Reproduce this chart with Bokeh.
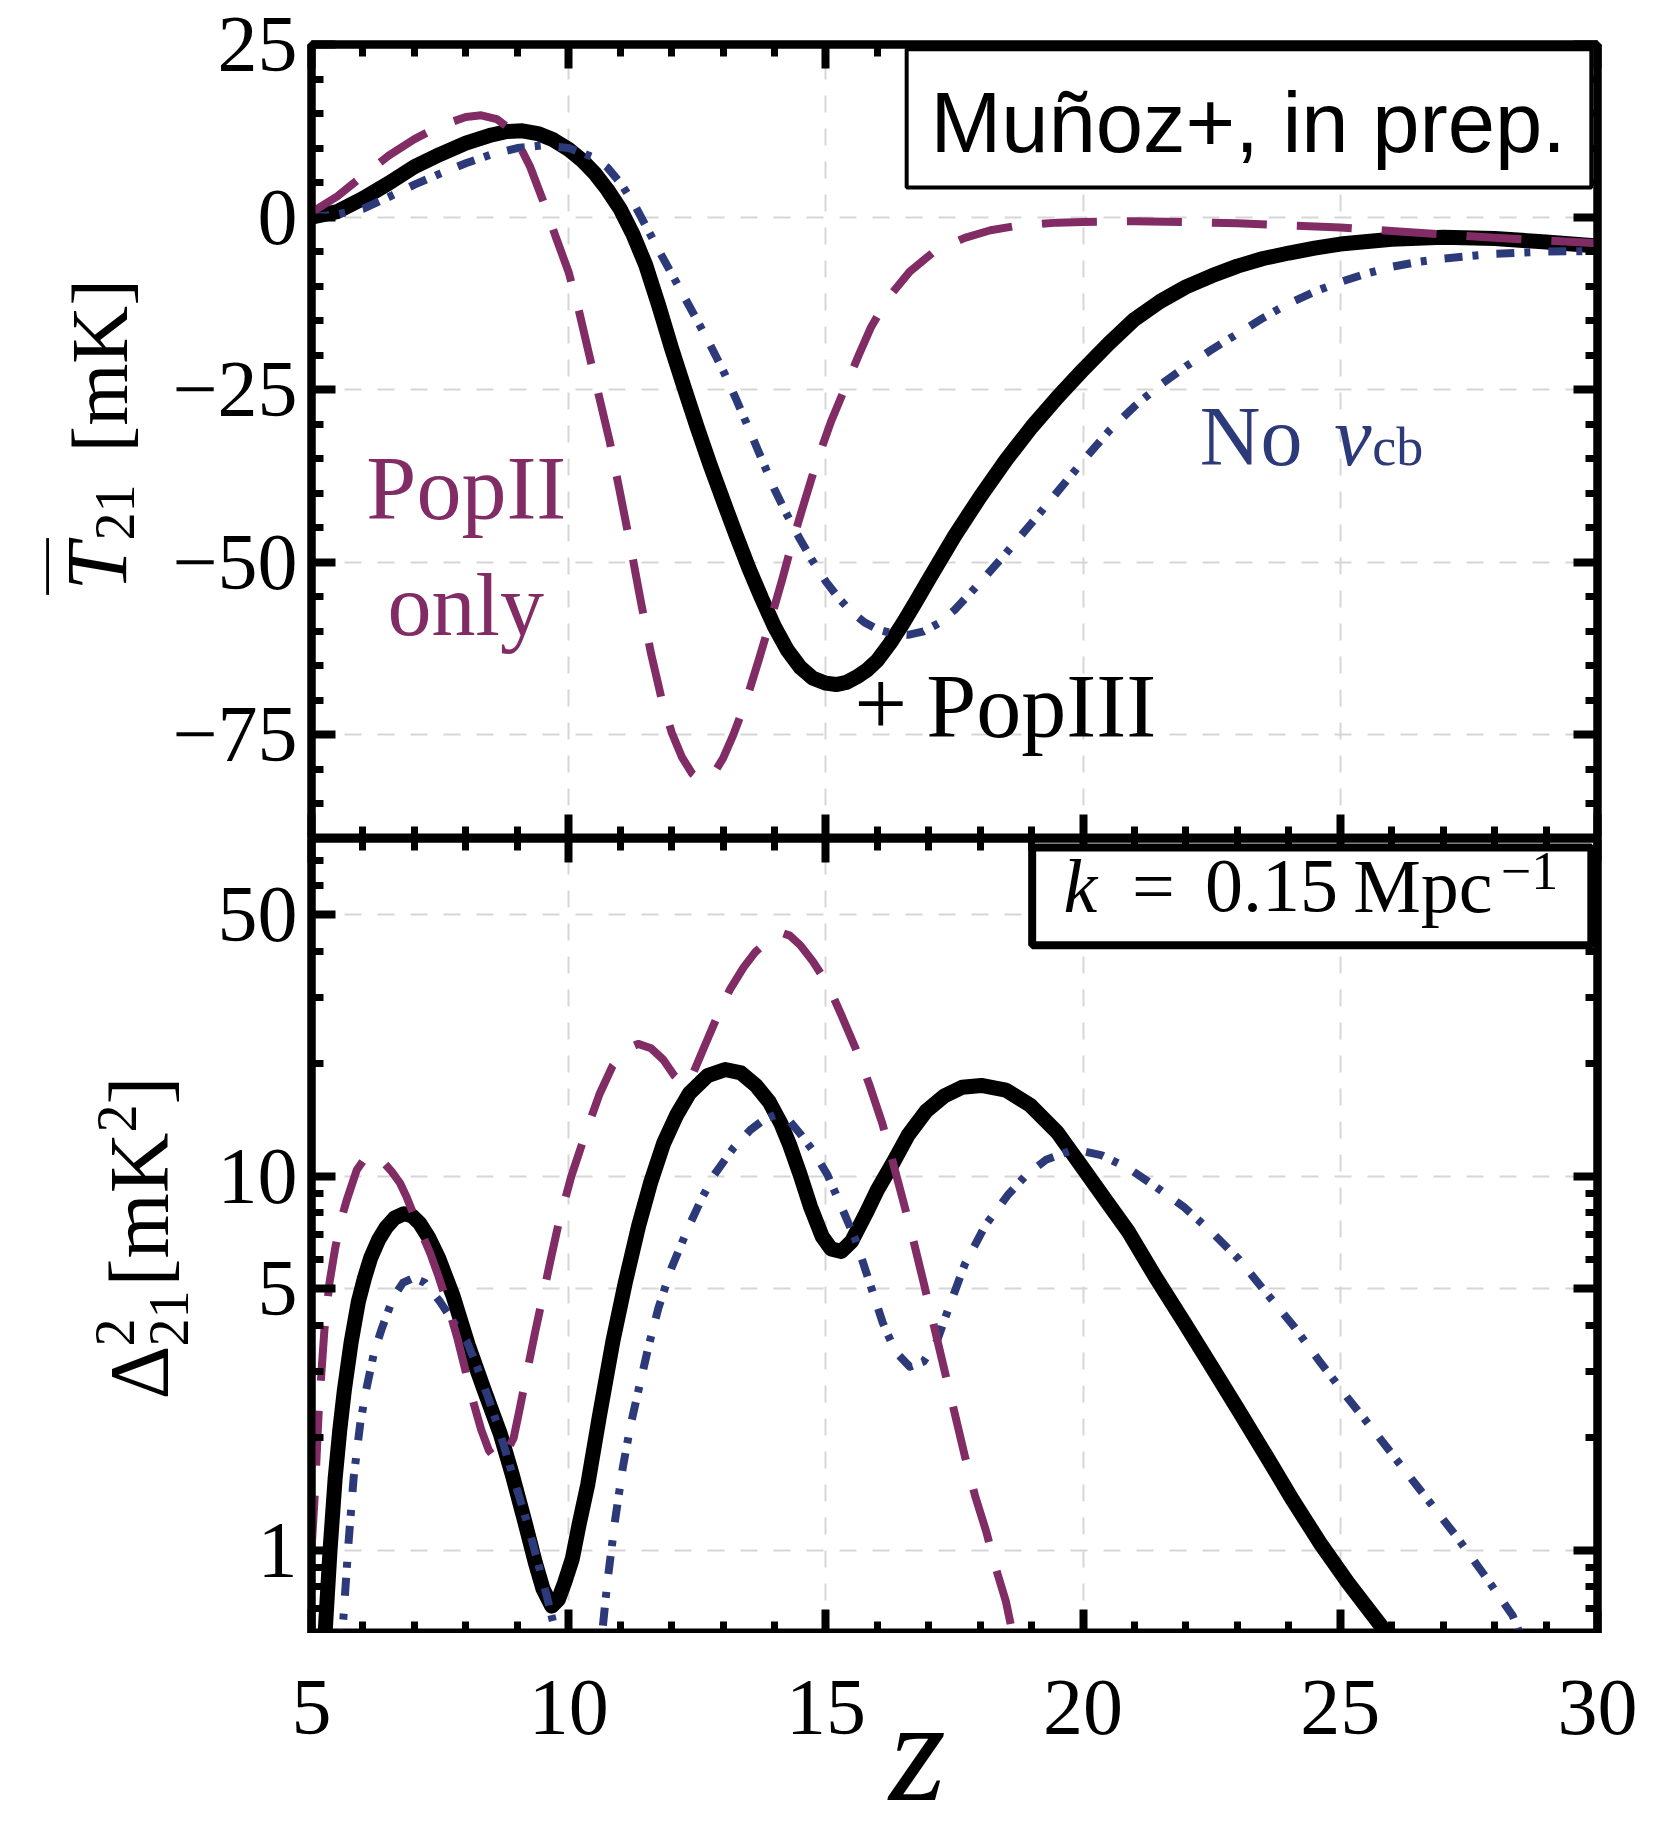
from bokeh.plotting import figure
from bokeh.layouts import column, row
from bokeh.models import (Range1d, LinearAxis, FixedTicker, Label,
                          BoxAnnotation, CustomJSTickFormatter)
from bokeh.core.properties import value
from bokeh.embed import file_html
from bokeh.resources import INLINE
import math

# ---------------- data ----------------
# Top panel: global signal T21 [mK] vs z
z_t_pop3 = [5.0, 5.5, 6.0, 6.5, 7.0, 7.5, 8.0, 8.5, 8.8, 9.1, 9.4, 9.7, 10.0, 10.25,
            10.5, 10.75, 11.0, 11.25, 11.5, 11.75, 12.0, 12.25, 12.5, 12.75, 13.0,
            13.25, 13.5, 13.75, 14.0, 14.25, 14.5, 14.75, 15.0, 15.2, 15.4, 15.6, 15.8,
            16.0, 16.25, 16.5, 16.75, 17.0, 17.5, 18.0, 18.5, 19.0, 19.5, 20.0, 20.5,
            21.0, 21.5, 22.0, 22.5, 23.0, 23.5, 24.0, 24.5, 25.0, 26.0, 27.0, 28.0,
            29.0, 30.0]
t21_pop3 = [0.0, 0.8, 2.7, 4.9, 7.3, 9.1, 10.7, 11.9, 12.4, 12.5, 12.1, 11.2, 9.8, 8.3,
            6.4, 4.0, 1.2, -2.5, -7.0, -12.8, -19.0, -24.8, -30.5, -35.9, -41.0, -46.0,
            -50.8, -55.2, -59.3, -62.7, -65.2, -66.8, -67.5, -67.7, -67.4, -66.6, -65.6,
            -64.2, -61.7, -58.8, -55.7, -52.5, -46.2, -40.5, -35.2, -30.4, -26.1, -22.1,
            -18.3, -14.8, -12.2, -10.1, -8.5, -7.1, -6.0, -5.2, -4.5, -3.9, -3.2, -2.9,
            -3.1, -3.6, -4.2]

z_t_novcb = [5.0, 5.5, 6.0, 6.5, 7.0, 7.5, 8.0, 8.5, 9.0, 9.5, 10.0, 10.5, 10.75, 11.0,
             11.25, 11.5, 11.75, 12.0, 12.25, 12.5, 12.75, 13.0, 13.25, 13.5, 13.75,
             14.0, 14.25, 14.5, 14.75, 15.0, 15.25, 15.5, 15.75, 16.0, 16.3, 16.6, 16.9,
             17.2, 17.5, 18.0, 18.5, 19.0, 19.5, 20.0, 20.5, 21.0, 21.5, 22.0, 22.5,
             23.0, 23.5, 24.0, 24.5, 25.0, 25.5, 26.0, 26.5, 27.0, 28.0, 29.0, 30.0]
t21_novcb = [0.0, 0.4, 1.2, 2.9, 4.7, 6.3, 7.8, 9.1, 10.0, 10.4, 10.0, 8.6, 7.2, 5.0,
             2.2, -1.3, -4.8, -8.2, -11.6, -15.0, -18.5, -22.2, -26.3, -30.6, -35.0,
             -39.4, -43.2, -46.7, -49.9, -52.8, -55.2, -57.2, -58.7, -59.7, -60.3, -60.5,
             -60.0, -58.8, -56.9, -52.9, -48.7, -44.3, -39.8, -35.3, -31.0, -27.4, -24.3,
             -21.6, -19.2, -16.9, -14.6, -12.5, -10.8, -9.4, -8.2, -7.2, -6.5, -6.0,
             -5.3, -5.0, -4.9]

z_t_pop2 = [5.0, 5.5, 6.0, 6.5, 7.0, 7.5, 8.0, 8.3, 8.6, 8.8, 9.0, 9.25, 9.5, 9.75,
            10.0, 10.2, 10.4, 10.6, 10.8, 11.0, 11.2, 11.4, 11.6, 11.8, 12.0, 12.2, 12.4,
            12.55, 12.7, 12.85, 13.0, 13.2, 13.46, 13.7, 13.92, 14.15, 14.35, 14.6,
            14.81, 15.1, 15.39, 15.65, 15.88, 16.2, 16.63, 17.1, 17.7, 18.2, 18.76, 19.5,
            20.0, 21.0, 22.0, 23.0, 24.0, 25.0, 26.0, 27.0, 28.0, 29.0, 30.0]
t21_pop2 = [0.7, 3.0, 6.0, 8.9, 11.3, 13.2, 14.5, 14.75, 14.2, 13.1, 11.0, 7.3, 2.4,
            -2.9, -8.0, -13.6, -20.0, -26.3, -32.6, -40.0, -47.6, -55.6, -63.2, -69.6,
            -74.6, -78.2, -80.6, -81.5, -81.3, -80.2, -78.4, -75.0, -69.8, -64.0, -58.5,
            -52.5, -47.0, -40.8, -35.7, -29.6, -24.4, -19.8, -15.9, -11.8, -7.9, -5.0,
            -3.0, -1.9, -1.2, -0.8, -0.7, -0.6, -0.7, -0.9, -1.2, -1.5, -2.0, -2.5,
            -3.0, -3.4, -3.8]

# Bottom panel: power spectrum Delta^2_21 [mK^2] at k = 0.15/Mpc
z_d_pop3 = [5.2, 5.27, 5.36, 5.46, 5.55, 5.64, 5.77, 5.91, 6.03, 6.15, 6.3, 6.45, 6.62,
            6.8, 6.95, 7.1, 7.28, 7.47, 7.75, 8.05, 8.35, 8.67, 8.9, 9.15, 9.35, 9.5,
            9.67, 9.8, 9.92, 10.07, 10.2, 10.37, 10.6, 10.86, 11.1, 11.36, 11.6, 11.85,
            12.1, 12.35, 12.7, 13.04, 13.35, 13.64, 13.9, 14.13, 14.3, 14.5, 14.7, 14.93,
            15.1, 15.3, 15.5, 15.78, 16.0, 16.31, 16.6, 16.95, 17.3, 17.65, 18.02, 18.5,
            18.97, 19.5, 20.0, 20.45, 20.89, 21.4, 21.96, 22.5, 23.03, 23.55, 24.08,
            24.6, 25.15, 25.79, 26.1]
d21_pop3 = [0.45, 0.62, 1.0, 1.56, 2.1, 2.69, 3.6, 4.62, 5.35, 6.05, 6.75, 7.3, 7.75,
            7.95, 7.85, 7.5, 6.85, 6.05, 4.8, 3.53, 2.7, 2.05, 1.6, 1.19, 0.93, 0.79,
            0.71, 0.74, 0.82, 0.95, 1.17, 1.5, 2.3, 3.63, 5.2, 7.38, 9.7, 12.3, 14.6,
            16.7, 18.6, 19.3, 18.9, 17.5, 15.8, 13.8, 12.1, 10.1, 8.3, 6.9, 6.4, 6.3,
            6.7, 7.96, 9.2, 10.9, 12.9, 14.95, 16.4, 17.3, 17.5, 17.0, 15.5, 13.1, 10.5,
            8.6, 7.08, 5.4, 4.08, 3.1, 2.36, 1.8, 1.36, 1.05, 0.82, 0.63, 0.52]

z_d_novcb = [5.5, 5.62, 5.72, 5.82, 5.95, 6.08, 6.22, 6.37, 6.59, 6.78, 6.98, 7.2, 7.5,
             7.75, 8.02, 8.2, 8.41, 8.6, 8.8, 9.0, 9.19, 9.4, 9.58, 9.75, 9.9, 10.55,
             10.65, 10.75, 10.9, 11.05, 11.2, 11.35, 11.55, 11.74, 12.0, 12.34, 12.6,
             12.83, 13.2, 13.53, 13.8, 14.02, 14.25, 14.5, 14.75, 15.03, 15.3, 15.57,
             15.85, 16.1, 16.35, 16.63, 16.9, 17.16, 17.4, 17.7, 18.1, 18.55, 18.9,
             19.29, 19.83, 20.35, 20.89, 21.4, 21.96, 22.5, 23.03, 23.55, 24.08, 24.6,
             25.15, 25.7, 26.22, 26.75, 27.28, 27.8, 28.35, 28.6]
d21_novcb = [0.4, 0.66, 1.05, 1.57, 2.2, 2.76, 3.4, 3.93, 4.75, 5.2, 5.35, 5.2, 4.62,
             4.1, 3.62, 3.15, 2.62, 2.2, 1.79, 1.45, 1.19, 0.93, 0.75, 0.6, 0.48, 0.5,
             0.6, 0.82, 1.2, 1.66, 2.15, 2.66, 3.5, 4.43, 5.7, 7.38, 8.8, 10.1, 11.9,
             13.3, 14.2, 14.6, 14.3, 13.0, 11.7, 10.1, 8.3, 6.8, 5.2, 4.08, 3.4, 3.1,
             3.2, 3.63, 4.5, 5.82, 7.4, 8.96, 10.1, 11.1, 11.8, 11.4, 10.5, 9.4, 8.28,
             7.1, 6.0, 4.9, 4.0, 3.2, 2.55, 2.05, 1.66, 1.34, 1.08, 0.86, 0.67, 0.55]

z_d_pop2 = [5.0, 5.07, 5.14, 5.25, 5.35, 5.46, 5.57, 5.68, 5.88, 6.08, 6.25, 6.4, 6.56,
            6.72, 6.85, 6.98, 7.15, 7.31, 7.47, 7.63, 7.83, 8.0, 8.15, 8.3, 8.45, 8.6,
            8.75, 8.93, 9.05, 9.19, 9.35, 9.51, 9.65, 9.8, 10.05, 10.35, 10.6, 10.85,
            11.1, 11.35, 11.6, 11.84, 12.05, 12.24, 12.4, 12.63, 12.9, 13.13, 13.4,
            13.63, 13.9, 14.12, 14.3, 14.5, 14.75, 15.03, 15.3, 15.57, 15.85, 16.1,
            16.35, 16.63, 16.9, 17.17, 17.45, 17.7, 17.9, 18.12, 18.3, 18.5, 18.75]
d21_pop2 = [1.0, 1.46, 2.35, 3.87, 5.2, 6.42, 7.6, 8.6, 10.4, 11.4, 11.4, 10.9, 10.3,
            9.6, 8.8, 7.94, 7.0, 6.22, 5.4, 4.62, 3.72, 3.0, 2.48, 2.1, 1.85, 1.74, 1.78,
            2.0, 2.4, 3.0, 3.85, 4.87, 6.0, 7.45, 10.0, 13.3, 16.6, 19.7, 21.8, 22.6,
            22.0, 20.5, 18.6, 17.5, 18.6, 22.1, 27.0, 31.5, 36.2, 39.8, 43.0, 44.9, 44.0,
            41.5, 37.5, 32.7, 27.0, 22.1, 17.5, 13.8, 10.3, 7.38, 5.2, 3.63, 2.5, 1.79,
            1.4, 1.12, 0.9, 0.73, 0.5]

# ticks
z_major_ticks = [5, 10, 15, 20, 25, 30]
z_tick_labels = ["5", "10", "15", "20", "25", "30"]
z_minor_ticks = [z for z in range(5, 31) if z % 5]
t21_major_ticks = [-75, -50, -25, 0, 25]
t21_minor_ticks = [t for t in range(-90, 26, 5) if t % 25]
d21_major_ticks = [1, 5, 10, 50]
d21_minor_ticks = [0.6, 0.7, 0.8, 0.9, 2, 3, 4, 6, 7, 8, 9, 20, 30, 40, 60, 70, 80]

# ---------------- style ----------------
PURPLE = "#822c66"
BLUE = "#2d3a7a"
SERIF = "Liberation Serif"
SANS = "Liberation Sans"
BASE_SHIFT = 0.35   # baseline correction (fraction of font size)

x_ticker = FixedTicker(ticks=z_major_ticks, minor_ticks=z_minor_ticks)
t_ticker = FixedTicker(ticks=t21_major_ticks, minor_ticks=t21_minor_ticks)
d_ticker = FixedTicker(ticks=d21_major_ticks, minor_ticks=d21_minor_ticks)


def style_axis(ax, ticker, show_labels, standoff=14):
    ax.ticker = ticker
    ax.axis_line_width = 8
    ax.axis_line_color = "black"
    ax.major_tick_in = 24
    ax.major_tick_out = 0
    ax.minor_tick_in = 12
    ax.minor_tick_out = 0
    ax.major_tick_line_width = 8
    ax.minor_tick_line_width = 7
    ax.major_tick_line_color = "black"
    ax.minor_tick_line_color = "black"
    ax.major_label_text_font = SERIF
    ax.major_label_text_color = "black"
    if show_labels:
        ax.major_label_text_font_size = "80px"
        ax.major_label_standoff = standoff
    else:
        ax.major_label_text_font_size = "0px"
        ax.major_label_standoff = 0
        ax.major_label_text_alpha = 0


def style_grid(p, yticker):
    for g, tk in ((p.xgrid[0], x_ticker), (p.ygrid[0], yticker)):
        g.ticker = tk
        g.grid_line_color = "#d6d6d6"
        g.grid_line_width = 2
        g.grid_line_dash = "17 16"


def lab(p, x, y, text, size, color="black", font=SERIF, style="normal",
        align="left", angle=0.0):
    p.add_layout(Label(x=x, y=y, text=text, text_font=font,
                       text_font_size=f"{size}px", text_color=color,
                       text_font_style=style, text_align=align,
                       text_baseline="alphabetic", angle=angle))


def strip(width, height, y0, y1, top=0, bottom=0, x_range=None):
    """Blank figure whose frame spans page rows y0..y1 (y downward)."""
    s = figure(width=width, height=height,
               x_range=x_range if x_range is not None else Range1d(0, width),
               y_range=Range1d(y1, y0), output_backend="svg",
               toolbar_location=None, x_axis_location=None, y_axis_location=None,
               min_border_left=0, min_border_right=0, min_border_top=top,
               min_border_bottom=bottom)
    s.outline_line_color = None
    s.xgrid.visible = False
    s.ygrid.visible = False
    s.background_fill_color = "white"
    s.border_fill_color = "white"
    return s


minus_fmt = CustomJSTickFormatter(code="return tick < 0 ? '\u2212' + Math.abs(tick) : String(tick);")
plain_fmt = CustomJSTickFormatter(code="return String(tick);")

# mapping helpers for label placement
T_PX = 794.0 / 115.0          # px per mK in top panel
def t_shift(T, size):
    return T + BASE_SHIFT * size / T_PX

LOG_PX = 795.0 / (math.log10(80) - math.log10(0.6))
def d_at(yf, size):
    """data value of the bottom panel whose baseline lands on page row yf"""
    return 10 ** ((1551.0 - (yf - BASE_SHIFT * size)) / LOG_PX)

ROT = math.pi / 2

# ---------------- top panel ----------------
S1W = 160
p1 = figure(width=1659 - S1W, height=838, x_range=Range1d(5, 30), y_range=Range1d(-90, 25),
            output_backend="svg", toolbar_location=None,
            min_border_left=311 - S1W, min_border_right=62, min_border_top=44,
            min_border_bottom=0)
p1.outline_line_color = "black"
p1.outline_line_width = 8
p1.background_fill_color = "white"
p1.border_fill_color = "white"
style_axis(p1.xaxis[0], x_ticker, False)
style_axis(p1.yaxis[0], t_ticker, True)
p1.yaxis[0].formatter = minus_fmt
ax = LinearAxis(); style_axis(ax, x_ticker, False); p1.add_layout(ax, "above")
ax = LinearAxis(); style_axis(ax, t_ticker, False); p1.add_layout(ax, "right")
style_grid(p1, t_ticker)

p1.line(z_t_pop3, t21_pop3, line_color="black", line_width=15,
        line_join="round", line_cap="round")
p1.line(z_t_novcb, t21_novcb, line_color=BLUE, line_width=8,
        line_dash="18 10 6 18", line_join="round")
p1.line(z_t_pop2, t21_pop2, line_color=PURPLE, line_width=8,
        line_dash="55 30", line_join="round")

p1.add_layout(BoxAnnotation(left=16.57, right=29.88, top=24.3, bottom=4.3,
                            fill_color="white", fill_alpha=1.0,
                            line_color="black", line_alpha=1.0, line_width=4))
lab(p1, 23.21, t_shift(9.36, 85), "Muñoz+, in prep.", 85, font=SANS, align="center")
lab(p1, 8.01, t_shift(-43.9, 90), "PopII", 90, color=PURPLE, align="center")
lab(p1, 8.0, t_shift(-60.7, 88), "only", 88, color=PURPLE, align="center")
lab(p1, 22.27, t_shift(-36.1, 84), "No", 84, color=BLUE)
lab(p1, 24.88, t_shift(-36.1, 84), "v", 84, color=BLUE, style="italic")
lab(p1, 25.62, t_shift(-36.1, 54), "cb", 54, color=BLUE)
lab(p1, 15.55, t_shift(-75.4, 94), "+", 94)
lab(p1, 16.95, t_shift(-75.4, 90), "PopIII", 90)

# label strip for the top y axis: frame = page rows 44..838, y in page pixels
s1 = strip(S1W, 838, 44, 838, top=44, bottom=0)
lab(s1, 127 - BASE_SHIFT * 86, 590, "T", 86, style="italic", angle=ROT)
lab(s1, 134 - BASE_SHIFT * 56, 540, "21", 56, angle=ROT)
lab(s1, 127 - BASE_SHIFT * 80, 452, "[mK]", 80, angle=ROT)
lab(s1, 61 - BASE_SHIFT * 56, 594, "\u2014", 56, angle=ROT)

# ---------------- bottom panel ----------------
S2W = 200
p2 = figure(width=1659 - S2W, height=795, x_range=Range1d(5, 30), y_range=Range1d(0.6, 80),
            y_axis_type="log", output_backend="svg", toolbar_location=None,
            min_border_left=311 - S2W, min_border_right=62, min_border_top=0,
            min_border_bottom=0)
p2.outline_line_color = "black"
p2.outline_line_width = 8
p2.background_fill_color = "white"
p2.border_fill_color = "white"
style_axis(p2.xaxis[0], x_ticker, False)
style_axis(p2.yaxis[0], d_ticker, True)
p2.yaxis[0].formatter = plain_fmt
ax = LinearAxis(); style_axis(ax, x_ticker, False); p2.add_layout(ax, "above")
ax = LinearAxis(); style_axis(ax, d_ticker, False); p2.add_layout(ax, "right")
style_grid(p2, d_ticker)

p2.line(z_d_pop3, d21_pop3, line_color="black", line_width=15,
        line_join="round", line_cap="round")
p2.line(z_d_novcb, d21_novcb, line_color=BLUE, line_width=8,
        line_dash="18 10 6 18", line_join="round")
p2.line(z_d_pop2, d21_pop2, line_color=PURPLE, line_width=8,
        line_dash="55 30", line_join="round")

p2.add_layout(BoxAnnotation(left=19.01, right=29.88, top=75.7, bottom=41.5,
                            fill_color="white", fill_alpha=1.0,
                            line_color="black", line_alpha=1.0, line_width=8))
lab(p2, 19.62, d_at(913, 76), "k", 76, style="italic")
lab(p2, 20.95, d_at(913, 76), "=", 76)
lab(p2, 22.37, d_at(913, 76), "0.15", 76)
lab(p2, 25.25, d_at(913, 76), "Mpc", 76)
lab(p2, 28.12, d_at(890, 54), "\u22121", 54)

# label strip for the bottom y axis: frame = page rows 838..1633
s2 = strip(S2W, 795, 838, 1633)
lab(s2, 168 - BASE_SHIFT * 84, 1399, "\u0394", 84, angle=ROT)
lab(s2, 134 - BASE_SHIFT * 56, 1346, "2", 56, angle=ROT)
lab(s2, 188 - BASE_SHIFT * 56, 1346, "21", 56, angle=ROT)
lab(s2, 168 - BASE_SHIFT * 84, 1286, "[mK", 84, angle=ROT)
lab(s2, 136 - BASE_SHIFT * 56, 1132, "2", 56, angle=ROT)
lab(s2, 168 - BASE_SHIFT * 84, 1104, "]", 84, angle=ROT)

# strip below: x tick labels and the x-axis label (page rows 1633..1832)
ZX = Range1d(5 - 311 / 51.44, 30 + 62 / 51.44)
s3 = strip(1659, 199, 1633, 1832, x_range=ZX)
s3.text(x=z_major_ticks, y=[1735 - BASE_SHIFT * 80] * len(z_major_ticks),
        text=z_tick_labels, text_font=value(SERIF), text_font_size=value("80px"),
        text_align="center", text_baseline="alphabetic", text_color="black")
lab(s3, 16.78, 1802 - BASE_SHIFT * 146, "z", 146, style="italic", align="center")

layout = column(row(s1, p1), row(s2, p2), s3)
open("out.html", "w").write(file_html(layout, INLINE))
